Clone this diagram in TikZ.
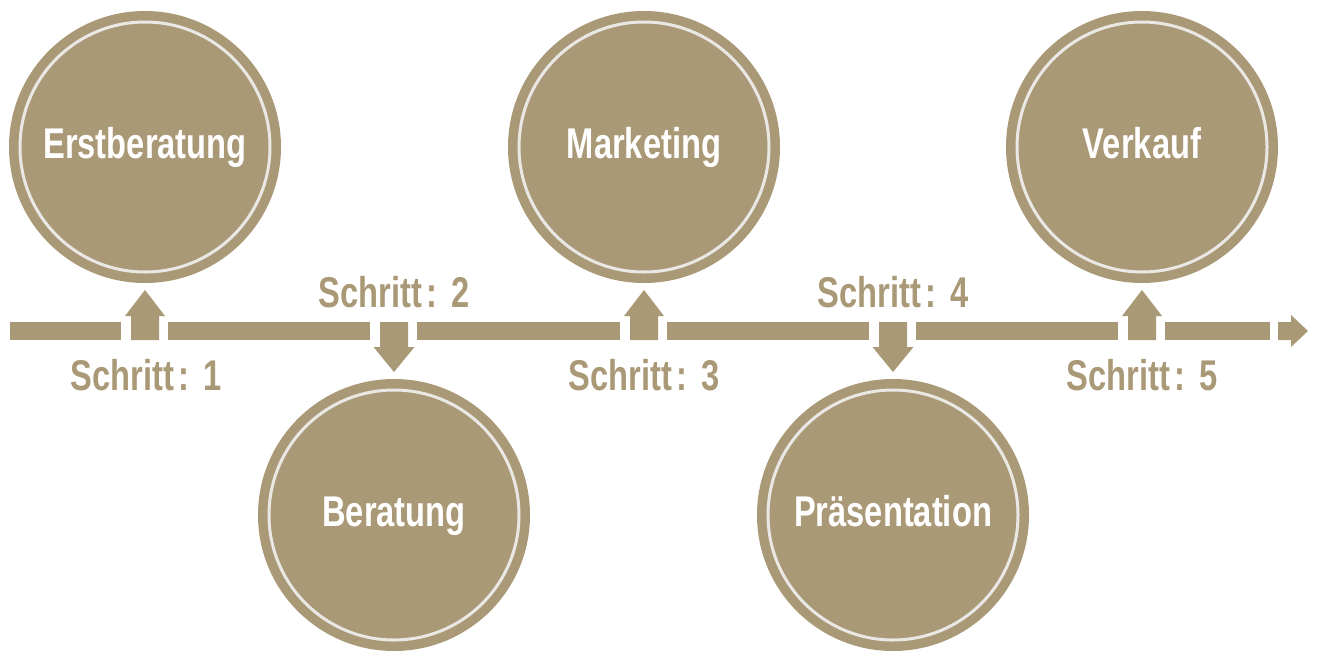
\documentclass[tikz,border=0pt]{standalone}
\usepackage{fontspec}
\newfontfamily\dinfont{Liberation Sans}[FakeStretch=0.76]
\definecolor{tan}{HTML}{AA9977}
\definecolor{ringgray}{HTML}{EAE8E5}
\begin{document}
\begin{tikzpicture}[x=1pt,y=-1pt,
  stepcircle/.style={circle, fill=tan, minimum size=272pt, inner sep=0pt, draw=none},
  ringline/.style={draw=ringgray, line width=3pt},
  circtext/.style={text=white, font=\dinfont\bfseries\fontsize{43}{43}\selectfont, inner sep=0pt, anchor=base},
  steplabel/.style={text=tan, font=\dinfont\bfseries\fontsize{43}{43}\selectfont, inner sep=0pt, anchor=base},
  barseg/.style={fill=tan},
]
\useasboundingbox (0,0) rectangle (1320,662);
\fill[white] (0,0) rectangle (1320,662);

% circles
\foreach \x/\y/\t/\n in {145/147/Erstberatung/c1, 394/515/Beratung/c2, 644/147/Marketing/c3, 893/515/Präsentation/c4, 1142/147/Verkauf/c5}{
  \node[stepcircle] (\n) at (\x,\y) {};
  \draw[ringline] (\n.center) circle (125);
  \node[circtext] (\n t) at (\x,\y+11) {\t};
}

% timeline coordinates
\coordinate (a1) at (145,331);
\coordinate (a2) at (394,331);
\coordinate (a3) at (644,331);
\coordinate (a4) at (893,331);
\coordinate (a5) at (1142,331);

% bar segments
\fill[barseg] (10,322) rectangle (121,340);
\fill[barseg] (168,322) rectangle (370,340);
\fill[barseg] (417,322) rectangle (620,340);
\fill[barseg] (667,322) rectangle (869,340);
\fill[barseg] (916,322) rectangle (1118,340);
\fill[barseg] (1165,322) rectangle (1270,340);
% final arrow
\fill[barseg] (1278,322) -- (1291,322) -- (1291,315) -- (1308,331) -- (1291,347) -- (1291,340) -- (1278,340) -- cycle;

% up arrows
\foreach \a in {a1,a3,a5}{
  \fill[barseg, shift={(\a)}] (-14,9) -- (-14,-15) -- (-20,-15) -- (0,-41) -- (20,-15) -- (14,-15) -- (14,9) -- cycle;
}
% down arrows
\foreach \a in {a2,a4}{
  \fill[barseg, shift={(\a)}] (-14,-9) -- (-14,16) -- (-20.5,16) -- (0,41) -- (20.5,16) -- (14,16) -- (14,-9) -- cycle;
}

% labels
\node[steplabel] (s1) at (146,390) {Schritt\kern4pt:\kern14pt1};
\node[steplabel] (s2) at (394,307) {Schritt\kern4pt:\kern14pt2};
\node[steplabel] (s3) at (644,390) {Schritt\kern4pt:\kern14pt3};
\node[steplabel] (s4) at (893,307) {Schritt\kern4pt:\kern14pt4};
\node[steplabel] (s5) at (1142,390) {Schritt\kern4pt:\kern14pt5};
\end{tikzpicture}
\end{document}
